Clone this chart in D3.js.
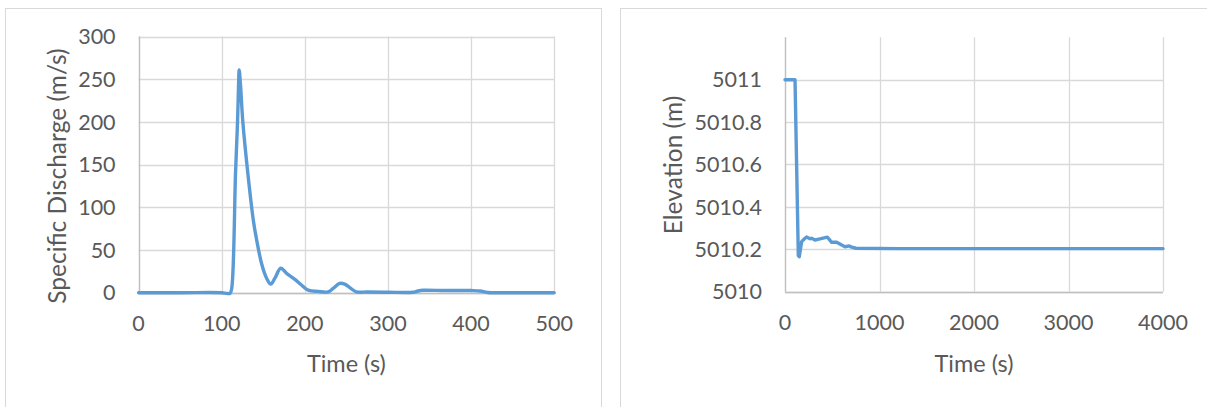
<!DOCTYPE html>
<html>
<head>
<meta charset="utf-8">
<script src="https://cdn.jsdelivr.net/npm/d3@7"></script>
<style>
  html, body { margin: 0; padding: 0; background: #ffffff; }
  svg { display: block; }
  text { font-family: "Lato", "Open Sans", sans-serif; fill: #595959; }
</style>
</head>
<body>
<svg id="chart" width="1207" height="407"></svg>
<script>
// Specific discharge at the outlet over the first 500 s
const dischargeTime = [0, 50, 100, 106, 110, 112, 116.6, 119, 120.3, 121, 122.5, 125.4, 131.4, 138, 142, 148, 154, 159, 164, 171, 178, 188, 196, 204, 216, 228, 234, 242, 248, 254, 262, 275, 300, 330, 336, 342, 370, 400, 411, 420, 450, 500];
const dischargeValue = [0, 0, 0, -0.8, -0.8, 5, 140, 200, 245, 261, 245, 200, 140, 85, 62, 34, 17, 10, 17, 28.6, 22.7, 15.7, 9, 3, 1.5, 1, 5, 11, 10, 6, 1, 0.8, 0.5, 0.5, 2, 2.8, 2.5, 2.5, 2, 0.2, 0, 0];
const dischargeXTicks = [0, 100, 200, 300, 400, 500];
const dischargeYTicks = [0, 50, 100, 150, 200, 250, 300];

// Water surface elevation over the full 4000 s run
const elevationTime = [0, 106, 141, 151, 176, 212, 229, 265, 282, 317, 370, 448, 494, 547, 600, 635, 681, 706, 751, 1200, 4000];
const elevationValue = [5011, 5011, 5010.17, 5010.165, 5010.236, 5010.252, 5010.258, 5010.25, 5010.252, 5010.244, 5010.249, 5010.257, 5010.233, 5010.233, 5010.22, 5010.212, 5010.216, 5010.21, 5010.205, 5010.203, 5010.203];
const elevationXTicks = [0, 1000, 2000, 3000, 4000];
const elevationYTicks = [5010, 5010.2, 5010.4, 5010.6, 5010.8, 5011];

const svg = d3.select("#chart");
const lineColor = "#5b9bd5";
const gridColor = "#d9d9d9";
const axisColor = "#bfbfbf";

// Panel frames
svg.append("rect").attr("x", 5.5).attr("y", 8.5).attr("width", 596).attr("height", 430)
  .attr("fill", "none").attr("stroke", gridColor);
svg.append("rect").attr("x", 620.5).attr("y", 8.5).attr("width", 620).attr("height", 430)
  .attr("fill", "none").attr("stroke", gridColor);

function drawPanel(opts) {
  const { x, y, xs, ys, xTicks, yTicks, yFormat, xTitle, yTitle, yTitleX, yTitleY, curve } = opts;
  const g = svg.append("g");
  const [x0, x1] = x.range();
  const [yb, yt] = y.range();

  // horizontal gridlines
  g.append("g").selectAll("line").data(yTicks).join("line")
    .attr("x1", x0).attr("x2", x1)
    .attr("y1", d => Math.round(y(d)) + 0.5).attr("y2", d => Math.round(y(d)) + 0.5)
    .attr("stroke", gridColor).attr("stroke-width", 1.3);
  // vertical gridlines
  g.append("g").selectAll("line").data(xTicks).join("line")
    .attr("x1", d => Math.round(x(d)) + 0.5).attr("x2", d => Math.round(x(d)) + 0.5)
    .attr("y1", yt).attr("y2", yb)
    .attr("stroke", gridColor).attr("stroke-width", 1.3);

  // axis lines
  g.append("line").attr("x1", Math.round(x0) + 0.5).attr("x2", Math.round(x0) + 0.5)
    .attr("y1", yt).attr("y2", yb).attr("stroke", axisColor).attr("stroke-width", 1.3);
  g.append("line").attr("x1", x0).attr("x2", x1)
    .attr("y1", Math.round(yb) + 0.5).attr("y2", Math.round(yb) + 0.5)
    .attr("stroke", axisColor).attr("stroke-width", 1.3);

  // tick labels
  g.append("g").selectAll("text").data(yTicks).join("text")
    .attr("x", x0 - 23).attr("y", d => y(d)).attr("dy", "0.36em")
    .attr("text-anchor", "end").attr("font-size", 21.5)
    .text(yFormat);
  g.append("g").selectAll("text").data(xTicks).join("text")
    .attr("x", d => x(d)).attr("y", yb + 38)
    .attr("text-anchor", "middle").attr("font-size", 21.5)
    .text(d => d);

  // axis titles
  g.append("text").attr("x", (x0 + x1) / 2).attr("y", 372)
    .attr("text-anchor", "middle").attr("font-size", 23.5).text(xTitle);
  g.append("text").attr("transform", `translate(${yTitleX},${yTitleY}) rotate(-90)`)
    .attr("text-anchor", "middle").attr("font-size", 24.5).text(yTitle);

  // series
  const line = d3.line().x(d => x(d[0])).y(d => y(d[1])).curve(curve);
  g.append("path").datum(d3.zip(xs, ys))
    .attr("d", line).attr("fill", "none")
    .attr("stroke", lineColor).attr("stroke-width", 3.4)
    .attr("stroke-linejoin", "round").attr("stroke-linecap", "round");
}

drawPanel({
  x: d3.scaleLinear().domain([0, 500]).range([138.6, 554.2]),
  y: d3.scaleLinear().domain([0, 300]).range([292.7, 36.6]),
  xs: dischargeTime, ys: dischargeValue,
  xTicks: dischargeXTicks, yTicks: dischargeYTicks,
  yFormat: d => d,
  xTitle: "Time (s)", yTitle: "Specific Discharge (m/s)",
  yTitleX: 66, yTitleY: 176,
  curve: d3.curveCatmullRom.alpha(0.5)
});

drawPanel({
  x: d3.scaleLinear().domain([0, 4000]).range([785, 1163]),
  y: d3.scaleLinear().domain([5010, 5011.2]).range([291.7, 37.3]),
  xs: elevationTime, ys: elevationValue,
  xTicks: elevationXTicks, yTicks: elevationYTicks,
  yFormat: d => d3.format("~f")(+d.toFixed(1)),
  xTitle: "Time (s)", yTitle: "Elevation (m)",
  yTitleX: 682, yTitleY: 165,
  curve: d3.curveLinear
});
</script>
</body>
</html>
